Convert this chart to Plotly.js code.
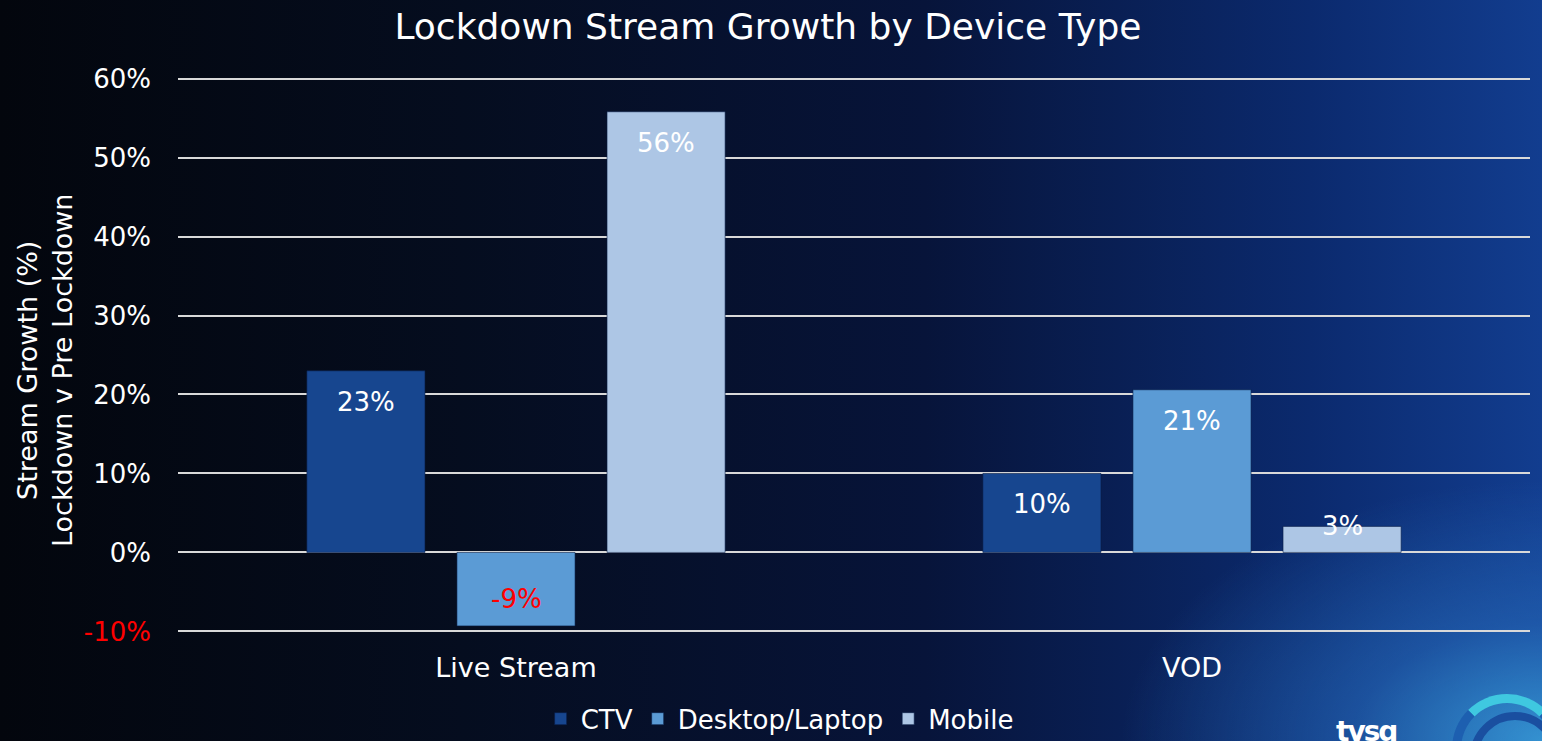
<!DOCTYPE html>
<html>
<head>
<meta charset="utf-8">
<script src="https://cdn.plot.ly/plotly-3.0.1.min.js"></script>
<style>
  html, body { margin: 0; padding: 0; width: 1542px; height: 741px; overflow: hidden; }
  body {
    background:
      radial-gradient(ellipse 420px 260px at 100% 100%, rgba(58,160,220,0.85) 0%, rgba(40,110,190,0.55) 45%, rgba(20,60,140,0) 100%),
      linear-gradient(90deg, #03060d 0%, #050d1f 30%, #07143a 60%, #0b2a6e 85%, #123d8f 100%);
  }
  #chart { position: absolute; left: 0; top: 0; width: 1542px; height: 741px; }
  .ring1 { position: absolute; left: 1452px; top: 694px; width: 110px; height: 110px; border-radius: 50%;
           border: 9px solid #1d5fb0; border-top-color: #3fc8e0; box-sizing: border-box; }
  .ring2 { position: absolute; left: 1470px; top: 712px; width: 90px; height: 90px; border-radius: 50%;
           border: 8px solid #1a4fa0; box-sizing: border-box; }
  .logo { position: absolute; left: 1336px; top: 718px; color: #fff; font: bold 28px "DejaVu Sans", sans-serif; letter-spacing: -2px; line-height: 28px; }
</style>
</head>
<body>
<div class="logo">tvsq</div>
<div class="ring1"></div>
<div class="ring2"></div>
<div id="chart"></div>
<script>
const categories = ["Live Stream", "VOD"];
const seriesNames = ["CTV", "Desktop/Laptop", "Mobile"];
const ctvValues = [0.23, 0.100];
const desktopValues = [-0.093, 0.206];
const mobileValues = [0.558, 0.033];
const seriesValues = [ctvValues, desktopValues, mobileValues];
const seriesColors = ["#17468f", "#5b9bd5", "#adc6e5"];
const tickVals = [-0.1, 0, 0.1, 0.2, 0.3, 0.4, 0.5, 0.6];
const tickText = ['<span style="fill:#ff0000">-10%</span>', "0%", "10%", "20%", "30%", "40%", "50%", "60%"];
const yTitleLines = ["Stream Growth (%)", "Lockdown v Pre Lockdown"];

const FONT = "DejaVu Sans, sans-serif";
const bargap = 0.334;
const slot = (1 - bargap) / seriesNames.length;

const traces = seriesNames.map((name, i) => ({
  type: "bar",
  name: name,
  x: categories,
  y: seriesValues[i],
  marker: { color: seriesColors[i], line: { color: "rgba(10,30,70,0.6)", width: 1 } },
  hoverinfo: "skip"
}));

const annotations = [];
seriesValues.forEach((vals, i) => {
  vals.forEach((v, j) => {
    const pct = Math.round(v * 100);
    let shift;
    if (Math.abs(v) < 0.05) shift = 0;
    else shift = v >= 0 ? -31 : 27;
    annotations.push({
      xref: "x", yref: "y",
      x: j + (i - (seriesNames.length - 1) / 2) * slot,
      y: v,
      yshift: shift,
      text: pct + "%",
      showarrow: false,
      xanchor: "center", yanchor: "middle",
      font: { family: FONT, size: 26, color: v < 0 ? "#ff0000" : "#ffffff" }
    });
  });
});

// y-axis title (two lines, rotated)
annotations.push({
  xref: "paper", yref: "paper",
  x: 0, xshift: -133, y: 0.473,
  text: yTitleLines.join("<br>"),
  textangle: -90,
  showarrow: false,
  xanchor: "center", yanchor: "middle",
  font: { family: FONT, size: 27, color: "#ffffff" }
});

const layout = {
  width: 1542, height: 741,
  paper_bgcolor: "rgba(0,0,0,0)",
  plot_bgcolor: "rgba(0,0,0,0)",
  margin: { l: 178, r: 12, t: 77, b: 108, autoexpand: false },
  title: {
    text: "Lockdown Stream Growth by Device Type",
    font: { family: FONT, size: 36, color: "#ffffff" },
    x: 0.498, xanchor: "center", y: 0.965, yanchor: "middle"
  },
  barmode: "group",
  bargap: bargap,
  bargroupgap: 0.213,
  xaxis: {
    type: "category",
    tickfont: { family: FONT, size: 27, color: "#ffffff" },
    showgrid: false, zeroline: false, showline: false, ticks: "",
    ticklabelstandoff: 16
  },
  yaxis: {
    range: [-0.102, 0.602],
    tickvals: tickVals,
    ticktext: tickText,
    tickfont: { family: FONT, size: 26, color: "#ffffff" },
    showgrid: true, gridcolor: "#d9d9d9", gridwidth: 2,
    zeroline: true, zerolinecolor: "#d9d9d9", zerolinewidth: 2,
    showline: false, ticks: "",
    ticklabelstandoff: 26
  },
  showlegend: true,
  legend: {
    orientation: "h", x: 0.445, xanchor: "center",
    y: -0.112, yanchor: "top",
    font: { family: FONT, size: 26, color: "#ffffff" },
    bgcolor: "rgba(0,0,0,0)",
    itemwidth: 30, tracegroupgap: 0
  },
  annotations: annotations
};

Plotly.newPlot("chart", traces, layout, { displayModeBar: false, staticPlot: true });
</script>
</body>
</html>
